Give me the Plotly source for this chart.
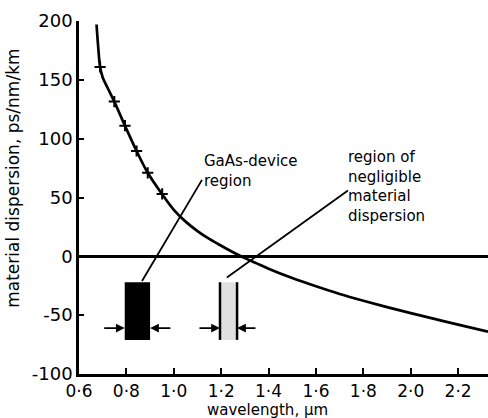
import plotly.graph_objects as go

# ---- data ----
curve_x = [0.674, 0.681, 0.689, 0.700, 0.720, 0.749, 0.794, 0.843, 0.890, 0.950,
           1.000, 1.050, 1.100, 1.150, 1.200, 1.250, 1.300, 1.350, 1.400, 1.500,
           1.600, 1.700, 1.800, 1.900, 2.000, 2.100, 2.200, 2.326]
curve_y = [197, 178, 161, 152, 143.5, 131.5, 111, 89.5, 71, 53,
           39.5, 29.5, 21.5, 14.8, 9, 3.5, -1.5, -6, -10.5, -18.5,
           -25.5, -32, -37.8, -43.2, -48.3, -53.2, -58, -64]

meas_x = [0.689, 0.749, 0.794, 0.843, 0.890, 0.951]
meas_y = [161, 131.5, 111, 89.5, 71, 53]

x_tickvals = [0.6, 0.8, 1.0, 1.2, 1.4, 1.6, 1.8, 2.0, 2.2]
x_ticktext = ["0·6", "0·8", "1·0", "1·2", "1·4", "1·6", "1·8", "2·0", "2·2"]
y_tickvals = [200, 150, 100, 50, 0, -50, -100]
y_ticktext = ["200", "150", "100", "50", "0", "-50", "-100"]

gaas_region = [0.793, 0.900]          # wavelength band, µm
negl_region = [1.195, 1.267]          # wavelength band, µm
band_y = [-71, -22]                    # vertical extent of band markers
arrow_y = -61
gaas_arrow_tails = [0.700, 0.992]
negl_arrow_tails = [1.102, 1.351]
gaas_leader = [(0.866, -21), (1.119, 65)]
negl_leader = [(1.224, -18), (1.735, 56)]

gaas_label = ["GaAs-device", "region"]
gaas_label_pos = (1.122, 72.5)
negl_label = ["region of", "negligible", "material", "dispersion"]
negl_label_pos = (1.733, 59.5)

FONT = "DejaVu Sans"
BLACK = "#000000"

fig = go.Figure()
fig.add_trace(go.Scatter(x=curve_x, y=curve_y, mode="lines",
                         line=dict(color=BLACK, width=2.7, shape="spline", smoothing=1.0),
                         hoverinfo="skip", showlegend=False))
fig.add_trace(go.Scatter(x=meas_x, y=meas_y, mode="markers",
                         marker=dict(symbol="cross-thin", size=8,
                                     line=dict(color=BLACK, width=2)),
                         showlegend=False))

shapes = []
shapes.append(dict(type="rect", xref="x", yref="y",
                   x0=gaas_region[0], x1=gaas_region[1], y0=band_y[0], y1=band_y[1],
                   fillcolor=BLACK, line=dict(width=0)))
shapes.append(dict(type="rect", xref="x", yref="y",
                   x0=negl_region[0], x1=negl_region[1], y0=band_y[0], y1=band_y[1],
                   fillcolor="rgba(0,0,0,0.12)", line=dict(width=0)))
for xv in negl_region:
    shapes.append(dict(type="line", xref="x", yref="y", x0=xv, x1=xv,
                       y0=band_y[0], y1=band_y[1], line=dict(color=BLACK, width=2.5)))
for (p0, p1) in (gaas_leader, negl_leader):
    shapes.append(dict(type="line", xref="x", yref="y", x0=p0[0], y0=p0[1],
                       x1=p1[0], y1=p1[1], line=dict(color=BLACK, width=1.8)))

annotations = []
arrow_pairs = [(gaas_arrow_tails[0], gaas_region[0]), (gaas_arrow_tails[1], gaas_region[1]),
               (negl_arrow_tails[0], negl_region[0]), (negl_arrow_tails[1], negl_region[1])]
for tail, head in arrow_pairs:
    annotations.append(dict(x=head, y=arrow_y, ax=tail, ay=arrow_y, xref="x", yref="y",
                            axref="x", ayref="y", text="", showarrow=True,
                            arrowhead=2, arrowsize=1.1, arrowwidth=1.6,
                            arrowcolor=BLACK, standoff=0))
for lines, (xv, yv) in ((gaas_label, gaas_label_pos), (negl_label, negl_label_pos)):
    annotations.append(dict(x=xv, y=yv, xref="x", yref="y", text="<br>".join(lines),
                            showarrow=False, xanchor="left", yanchor="middle",
                            align="left", borderpad=0,
                            font=dict(family=FONT, size=15, color=BLACK)))
annotations.append(dict(x=-0.162, y=0.555, xref="paper", yref="paper",
                        text="material dispersion, ps/nm/km", textangle=-90,
                        showarrow=False, xanchor="center", yanchor="middle",
                        font=dict(family=FONT, size=17, color=BLACK)))
annotations.append(dict(x=0.46, y=-0.1006, xref="paper", yref="paper",
                        text="wavelength, µm", showarrow=False,
                        xanchor="center", yanchor="middle", borderpad=0,
                        font=dict(family=FONT, size=15, color=BLACK)))

fig.update_layout(
    width=488, height=418,
    margin=dict(l=79, r=0, t=21, b=44),
    paper_bgcolor="white", plot_bgcolor="white",
    font=dict(family=FONT, size=17, color=BLACK),
    shapes=shapes, annotations=annotations,
    xaxis=dict(range=[0.6, 2.326], tickvals=x_tickvals, ticktext=x_ticktext,
               showgrid=False, zeroline=False, showline=True, linecolor=BLACK,
               linewidth=2.5, ticks="inside", ticklen=6, tickwidth=1.5,
               tickcolor=BLACK, ticklabelstandoff=0,
               tickfont=dict(family=FONT, size=17, color=BLACK)),
    yaxis=dict(range=[-100, 200], tickvals=y_tickvals, ticktext=y_ticktext,
               showgrid=False, zeroline=True, zerolinecolor=BLACK, zerolinewidth=2.5,
               showline=True, linecolor=BLACK, linewidth=2.5, ticks="inside",
               ticklen=5, tickwidth=1.5, tickcolor=BLACK, ticklabelstandoff=0,
               tickfont=dict(family=FONT, size=18, color=BLACK)),
)

# remove the browser's default 8 px body margin so the figure fills the window
fig.write_html("out.html", config={"displayModeBar": False},
               post_script="document.body.style.margin='0';document.body.style.overflow='hidden';")
